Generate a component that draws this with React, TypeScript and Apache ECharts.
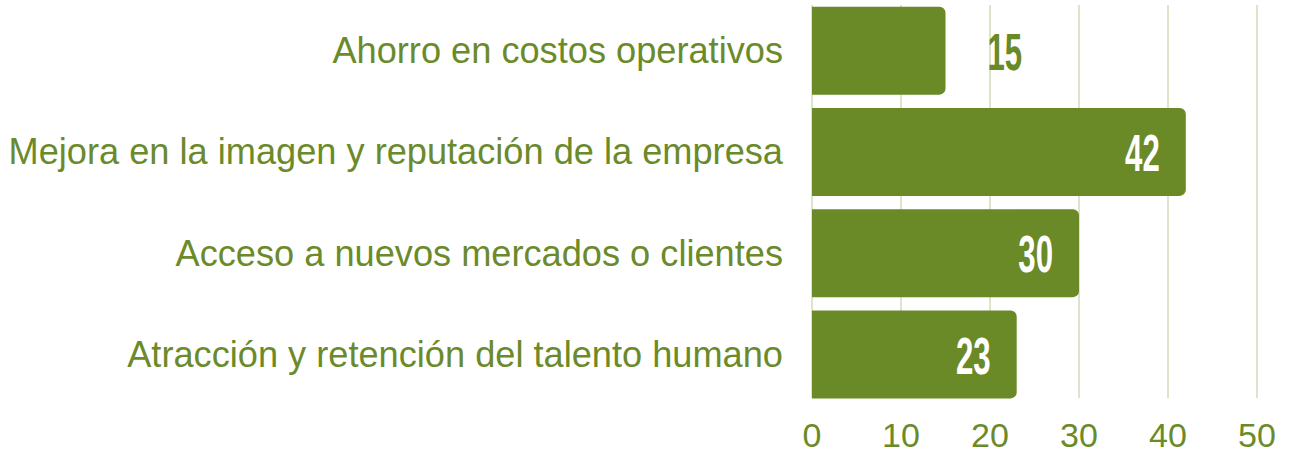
import React, { useEffect, useRef } from "react";
import * as echarts from "echarts";

const categories = [
  "Ahorro en costos operativos",
  "Mejora en la imagen y reputación de la empresa",
  "Acceso a nuevos mercados o clientes",
  "Atracción y retención del talento humano",
];
const values = [15, 42, 30, 23];
const xTicks = { min: 0, max: 50, interval: 10 };

const GREEN = "#6A8927";
const TEXT_GREEN = "#6B8A2A";
const GRID = "#DCE5C9";

export default function App() {
  const ref = useRef<HTMLDivElement>(null);
  useEffect(() => {
    if (!ref.current) return;
    const chart = echarts.init(ref.current, undefined, { renderer: "svg" });
    chart.setOption({
      animation: false,
      grid: [
        { left: 812, width: 445, top: -2, height: 407, containLabel: false },
        { left: 812, width: 445, top: 5, height: 393, containLabel: false },
      ],
      xAxis: [
        {
          gridIndex: 0,
          type: "value",
          min: xTicks.min,
          max: xTicks.max,
          interval: xTicks.interval,
          axisLabel: { show: false },
          axisLine: { show: false },
          axisTick: { show: false },
          splitLine: { show: false },
        },
        {
          gridIndex: 1,
          type: "value",
          min: xTicks.min,
          max: xTicks.max,
          interval: xTicks.interval,
          axisLabel: {
            color: TEXT_GREEN,
            fontSize: 34,
            fontFamily: "'Liberation Sans', Arial, sans-serif",
            margin: 20,
          },
          axisLine: { show: false },
          axisTick: { show: false },
          splitLine: { show: true, lineStyle: { color: GRID, width: 2 } },
        },
      ],
      yAxis: [
        {
          gridIndex: 0,
          type: "category",
          data: categories,
          inverse: true,
          axisLine: { show: false },
          axisTick: { show: false },
          axisLabel: {
            color: TEXT_GREEN,
            fontSize: 36.2,
            fontFamily: "'Liberation Sans', Arial, sans-serif",
            margin: 29,
          },
        },
        {
          gridIndex: 1,
          type: "category",
          data: categories,
          inverse: true,
          show: false,
        },
      ],
      series: [
        {
          type: "bar",
          xAxisIndex: 0,
          yAxisIndex: 0,
          barWidth: 88,
          z: 2,
          itemStyle: { color: GREEN, borderRadius: [0, 6, 6, 0] },
          data: values,
        },
        {
          type: "custom",
          xAxisIndex: 0,
          yAxisIndex: 0,
          silent: true,
          z: 10,
          data: values.map((v, i) => [v, i]),
          renderItem: (params: any, api: any) => {
            const v = api.value(0);
            const pt = api.coord([v, api.value(1)]);
            const outside = v < 20;
            return {
              type: "text",
              x: outside ? pt[0] + 42 : pt[0] - 26,
              y: pt[1] + 1,
              scaleX: 0.6,
              z2: 100,
              style: {
                text: String(v),
                x: 0,
                y: 0,
                align: outside ? "left" : "right",
                verticalAlign: "middle",
                fill: outside ? GREEN : "#FFFFFF",
                fontSize: 52,
                fontWeight: "bold",
                fontFamily: "'Liberation Sans', Arial, sans-serif",
              },
            };
          },
        },
      ],
    });
    return () => chart.dispose();
  }, []);
  return (
    <div
      ref={ref}
      style={{ position: "fixed", left: 0, top: 0, width: 1289, height: 456, background: "#fff" }}
    />
  );
}
